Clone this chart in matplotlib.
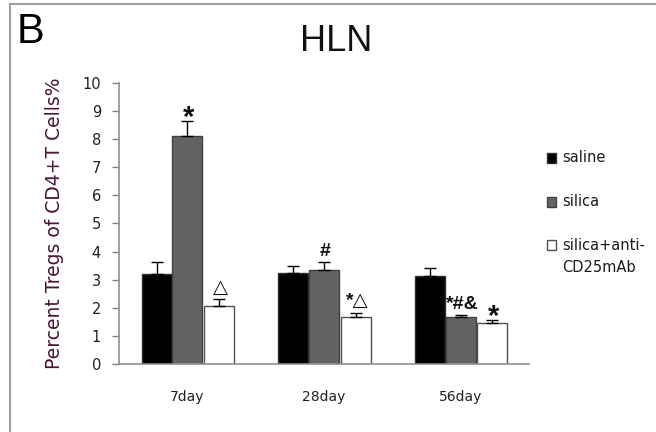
import matplotlib
matplotlib.use("Agg")
import matplotlib.pyplot as plt
from matplotlib.patches import Rectangle
from matplotlib.lines import Line2D
import numpy as np

categories = ["7day", "28day", "56day"]
series_names = ["saline", "silica", "silica+anti-\nCD25mAb"]
saline = [3.2, 3.25, 3.13]
silica = [8.1, 3.35, 1.68]
anti = [2.08, 1.66, 1.45]
saline_err = [0.42, 0.22, 0.27]
silica_err = [0.55, 0.27, 0.05]
anti_err = [0.22, 0.17, 0.12]
silica_marks = ["*", "#", "*#&"]
anti_marks = ["\u25b3", "*\u25b3", "*"]
yticks = [0, 1, 2, 3, 4, 5, 6, 7, 8, 9, 10]

fig = plt.figure(figsize=(6.56, 4.32), dpi=100)
ax = fig.add_axes([0.1814, 0.1574, 0.6250, 0.6505])

x = np.arange(len(categories))
width = 0.22
offsets = [-0.225, 0.0, 0.232]
values = [saline, silica, anti]
errs = [saline_err, silica_err, anti_err]
faces = ["#000000", "#636363", "#ffffff"]
edges = ["#303030", "#404040", "#505050"]

for vals, er, off, fc, ec in zip(values, errs, offsets, faces, edges):
    ax.bar(x + off, vals, width, color=fc, edgecolor=ec, linewidth=1.0, zorder=2)
    ax.errorbar(x + off, vals, yerr=[np.zeros(len(vals)), er], fmt="none",
                ecolor="#000000", elinewidth=1.0, capsize=4, capthick=1.0, zorder=3)

mark_font = ["Liberation Sans", "DejaVu Sans"]


def put_mark(xi, top, m):
    if m == "*":
        size, dy = 21, -3.5
    else:
        size, dy = 14, 4.5
    ax.annotate(m, (xi, top), xytext=(1, dy), textcoords="offset points",
                ha="center", va="baseline", fontsize=size, fontweight="bold",
                family=mark_font, color="#111111")


for xi, v, e, m in zip(x + offsets[1], silica, silica_err, silica_marks):
    put_mark(xi, v + e, m)
for xi, v, e, m in zip(x + offsets[2], anti, anti_err, anti_marks):
    put_mark(xi, v + e, m)

ax.set_xlim(-0.5, 2.5)
ax.set_ylim(0, 10)
ax.set_yticks(yticks)
ax.set_yticklabels([str(t) for t in yticks], fontsize=10.5, color="#222222",
                   family="DejaVu Sans")
ax.set_xticks(x)
ax.set_xticklabels(categories, fontsize=10, color="#222222", family="DejaVu Sans")
ax.tick_params(axis="x", length=0, pad=19)
ax.tick_params(axis="y", length=5, width=1, color="#808080", direction="out", pad=8)
for s in ["top", "right"]:
    ax.spines[s].set_visible(False)
for s in ["left", "bottom"]:
    ax.spines[s].set_color("#909090")
    ax.spines[s].set_linewidth(1.2)

ax.set_ylabel("Percent Tregs of CD4+T Cells%", fontsize=13.5, color="#4a1538",
              family="DejaVu Sans", labelpad=13)

fig.text(0.513, 0.904, "HLN", fontsize=26, family="Liberation Sans",
         ha="center", va="center", color="#111111")
fig.text(0.025, 0.926, "B", fontsize=30, family="Liberation Sans",
         ha="left", va="center", color="#000000")

# legend drawn manually
leg_y = [158, 202, 245]
line_gap = 22
for name, fc, ec, yy in zip(series_names, faces, edges, leg_y):
    fig.patches.append(Rectangle((547 / 656, 1 - (yy + 5) / 432), 9 / 656, 10 / 432,
                                 transform=fig.transFigure, facecolor=fc,
                                 edgecolor=ec, linewidth=1.0))
    for k, part in enumerate(name.split("\n")):
        fig.text(562 / 656, 1 - (yy + k * line_gap) / 432, part, fontsize=10.5,
                 family="DejaVu Sans", ha="left", va="center", color="#1a1a1a")

# figure frame (top and left edges)
fig.add_artist(Line2D([10 / 656, 1], [1 - 4 / 432, 1 - 4 / 432],
                      transform=fig.transFigure, color="#a0a0a0", linewidth=1.5))
fig.add_artist(Line2D([10 / 656, 10 / 656], [0, 1 - 4 / 432],
                      transform=fig.transFigure, color="#a0a0a0", linewidth=1.5))

fig.savefig("out.png", dpi=100)
